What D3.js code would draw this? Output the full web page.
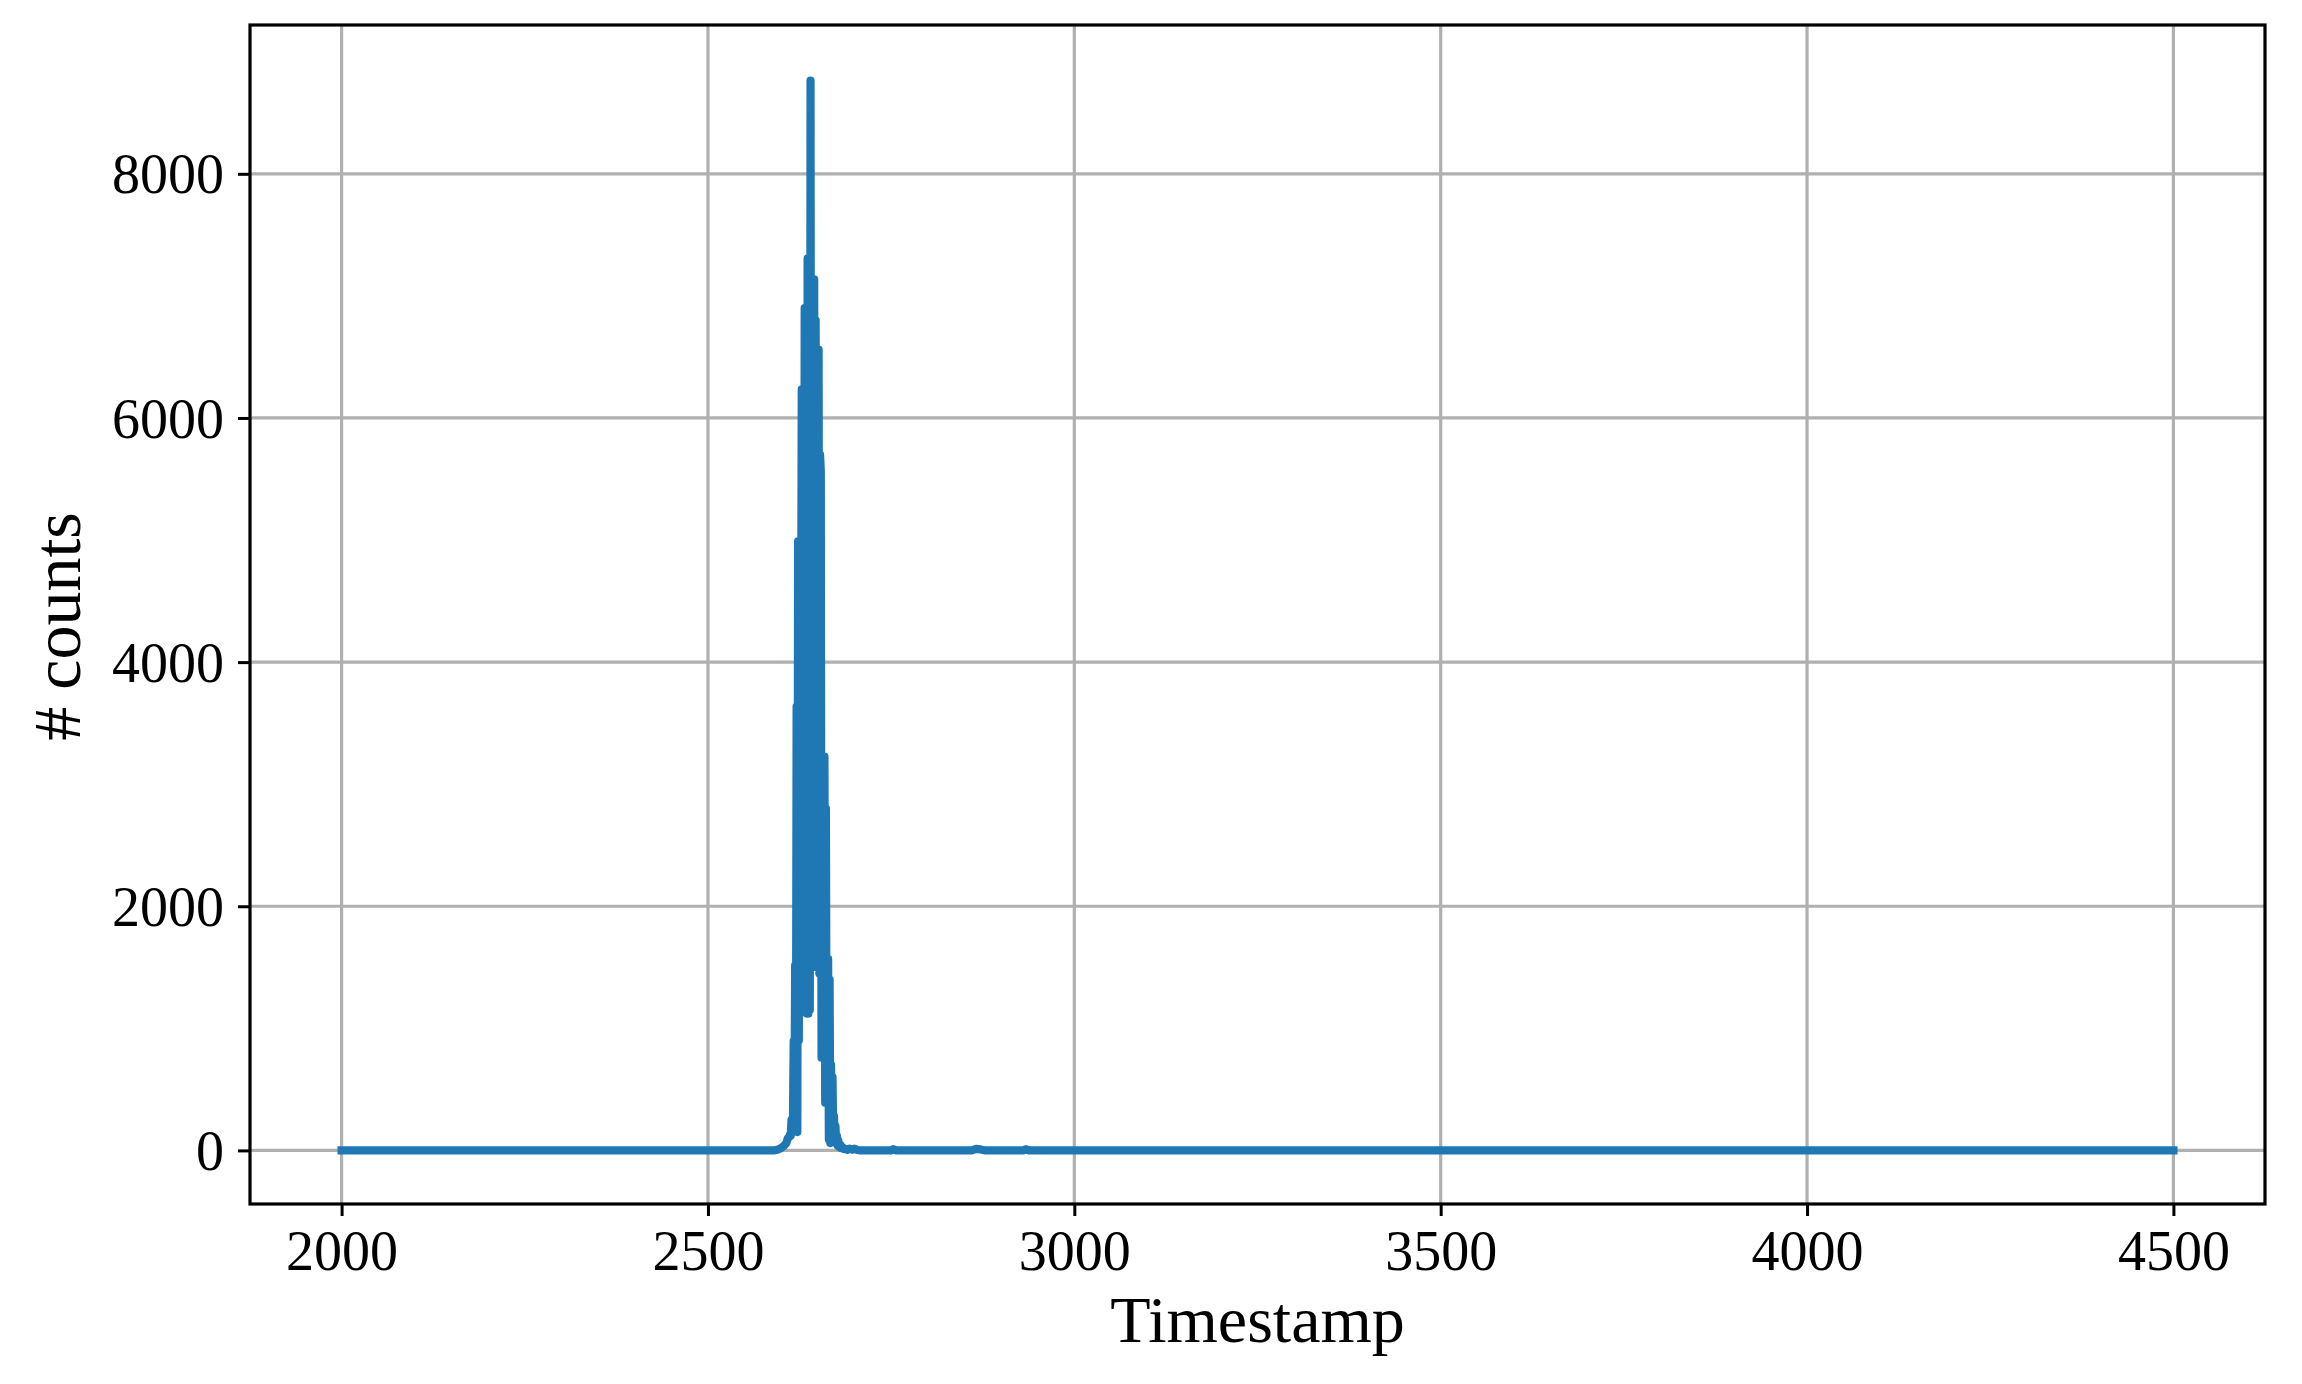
<!DOCTYPE html>
<html>
<head>
<meta charset="utf-8">
<script src="https://cdn.jsdelivr.net/npm/d3@7"></script>
<style>
  html, body { margin: 0; padding: 0; background: #ffffff; }
  svg { display: block; }
  text { font-family: "Liberation Serif", "DejaVu Serif", serif; fill: #000; }
</style>
</head>
<body>
<svg id="chart" width="2302" height="1384"></svg>
<script>
// ---- data ----
const timestamps = [
  2000, 2590, 2596, 2600, 2604, 2607, 2609, 2611, 2612, 2613, 2614, 2615,
  2616, 2617, 2618, 2619, 2620, 2621, 2622, 2623, 2624, 2625, 2626, 2627,
  2628, 2629, 2630, 2631, 2632, 2633, 2634, 2635, 2636, 2637, 2638, 2639,
  2640, 2641, 2642, 2643, 2644, 2645, 2646, 2647, 2648, 2649, 2650, 2651,
  2652, 2653, 2654, 2655, 2656, 2657, 2658, 2659, 2660, 2661, 2662, 2663,
  2664, 2665, 2666, 2667, 2668, 2669, 2670, 2671, 2672, 2673, 2674, 2675,
  2676, 2677, 2678, 2679, 2680, 2681, 2682, 2684, 2686, 2688, 2690, 2693,
  2697, 2700, 2704, 2708, 2750, 2753, 2757, 2860, 2866, 2872, 2879, 2930,
  2934, 2938, 4500
];
const counts = [
  0, 0, 8, 20, 40, 60, 100, 110, 130, 120, 250, 150,
  265, 895, 300, 1515, 200, 3635, 150, 4990, 900, 4200, 1250, 3800,
  6235, 1200, 5500, 1150, 6900, 1150, 6200, 1120, 7305, 1120, 6800, 1150,
  8763, 1950, 6900, 2000, 6500, 7135, 1550, 6800, 1500, 6000, 1500, 6560,
  1450, 5700, 5565, 760, 3225, 800, 3000, 3225, 390, 2800, 400, 1200,
  1570, 90, 1400, 60, 700, 150, 600, 100, 280, 80, 200, 60,
  120, 40, 80, 30, 50, 45, 20, 25, 10, 12, 5, 15,
  6, 14, 3, 0, 0, 10, 0, 0, 12, 8, 0, 0,
  10, 0, 0
];
const xTicks = [2000, 2500, 3000, 3500, 4000, 4500];
const yTicks = [0, 2000, 4000, 6000, 8000];
const xLabel = "Timestamp";
const yLabel = "# counts";

// ---- layout ----
const W = 2302, H = 1384;
const plot = { left: 250, right: 2265, top: 25, bottom: 1204 };
const svg = d3.select("#chart");
svg.append("rect").attr("width", W).attr("height", H).attr("fill", "#ffffff");

const x = d3.scaleLinear().domain([1875, 4625]).range([plot.left, plot.right]);
const y = d3.scaleLinear().domain([-439, 9219]).range([plot.bottom, plot.top]);

// grid
const grid = svg.append("g");
grid.selectAll("line.gx").data(xTicks).join("line")
  .attr("x1", d => x(d)).attr("x2", d => x(d))
  .attr("y1", plot.top).attr("y2", plot.bottom)
  .attr("stroke", "#b0b0b0").attr("stroke-width", 3.2);
grid.selectAll("line.gy").data(yTicks).join("line")
  .attr("y1", d => y(d)).attr("y2", d => y(d))
  .attr("x1", plot.left).attr("x2", plot.right)
  .attr("stroke", "#b0b0b0").attr("stroke-width", 3.2);

// data line
const pts = timestamps.map((t, i) => [t, counts[i]]);
const line = d3.line().x(d => x(d[0])).y(d => y(d[1]));
svg.append("defs").append("clipPath").attr("id", "clip")
  .append("rect").attr("x", plot.left).attr("y", plot.top)
  .attr("width", plot.right - plot.left).attr("height", plot.bottom - plot.top);
svg.append("path").datum(pts)
  .attr("clip-path", "url(#clip)")
  .attr("d", line)
  .attr("fill", "none")
  .attr("stroke", "#1f77b4")
  .attr("stroke-width", 8.2)
  .attr("stroke-linejoin", "round")
  .attr("stroke-linecap", "square");

// axes
const fmt = d3.format("d");
const xAxis = d3.axisBottom(x).tickValues(xTicks).tickFormat(fmt).tickSizeInner(12).tickSizeOuter(0).tickPadding(14);
const yAxis = d3.axisLeft(y).tickValues(yTicks).tickFormat(fmt).tickSizeInner(12).tickSizeOuter(0).tickPadding(14);

const gx = svg.append("g").attr("transform", `translate(0,${plot.bottom})`).call(xAxis);
const gy = svg.append("g").attr("transform", `translate(${plot.left},0)`).call(yAxis);
[gx, gy].forEach(g => {
  g.select(".domain").remove();
  g.selectAll(".tick line").attr("stroke", "#000").attr("stroke-width", 3);
  g.selectAll(".tick text").attr("font-size", 56).attr("fill", "#000")
    .style("font-family", '"Liberation Serif", "DejaVu Serif", serif');
});
gy.selectAll(".tick text").attr("dy", "0.34em");

// frame
svg.append("rect")
  .attr("x", plot.left).attr("y", plot.top)
  .attr("width", plot.right - plot.left).attr("height", plot.bottom - plot.top)
  .attr("fill", "none").attr("stroke", "#000").attr("stroke-width", 3.2);

// labels
svg.append("text")
  .attr("x", (plot.left + plot.right) / 2).attr("y", 1342)
  .attr("text-anchor", "middle").attr("font-size", 66)
  .text(xLabel);
svg.append("text")
  .attr("transform", `translate(80,${(plot.top + plot.bottom) / 2 + 12}) rotate(-90)`)
  .attr("text-anchor", "middle").attr("font-size", 68)
  .text(yLabel);
</script>
</body>
</html>
